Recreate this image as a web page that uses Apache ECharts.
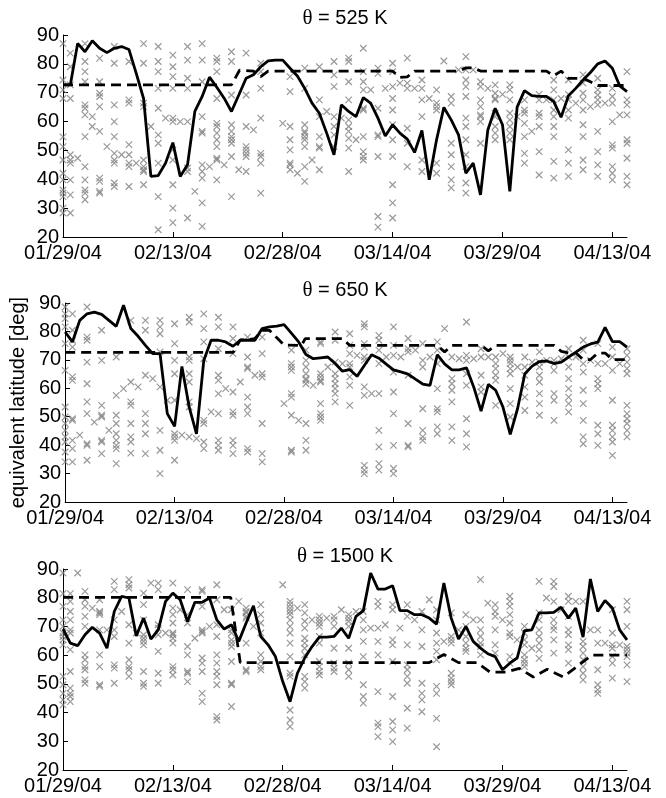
<!DOCTYPE html>
<html><head><meta charset="utf-8">
<script src="https://cdn.jsdelivr.net/npm/echarts@6/dist/echarts.min.js"></script>
<style>html,body{margin:0;padding:0;background:#fff;}#c{width:666px;height:798px;}</style>
</head><body><div id="c"></div>
<script>
// x axis ticks (day offsets from 01/29/04) and their labels
const tickDays = [0, 15, 30, 45, 60, 75];
const tickLabels = ['01/29/04', '02/13/04', '02/28/04', '03/14/04', '03/29/04', '04/13/04'];
const panelTitles = ['525 K', '650 K', '1500 K'];
const yName = 'equivalent latitude [deg]';

// solid lines: daily values, index = day 0..77
const solid525 = [72.7,72.7,87.1,84.2,88,85.4,83.9,85.4,86,85,76.7,68,41,41.3,45.6,52.7,41,45,63.5,68.7,75.4,71.9,68.1,63.5,69.2,75,76.2,79,81,81.3,81.3,78.5,75.8,71.5,66.4,62.9,56,48.5,65.8,63.5,61.7,68.3,66.4,61.2,55,58.9,56,53.9,49.3,56.9,39.8,53.7,64.9,60.6,55.4,42.1,45.6,34.6,57.1,64.6,58.9,35.8,65,70.7,69,68.7,68.7,66.9,61.5,68.9,71.5,74.4,77,80,81,78.5,72.4,70.4];
const solid650 = [79.8,76.3,83.9,86.2,86.8,86,83.9,81.8,89.2,81,78.3,75.1,72.2,72.2,51.1,46.6,67.7,53.4,44,69.8,76.9,76.9,76.3,74.8,76.9,76.9,76.9,81,81.6,81.9,82.4,79.4,76.3,71.9,70.4,70.7,71,68.7,66,66.6,64.2,68,71.8,70.6,68.5,66.5,65.8,65,63.2,61.5,61,71.8,68.6,66.5,66.5,67.2,60.4,52,61.4,59.3,53.4,43.8,52.8,65.1,67.8,69.4,69.6,68.7,69.2,71,72.7,74.5,75.6,76.2,81.4,76.4,76.4,74.5];
const solid1500 = [69.1,64.2,63.3,67.1,69.7,67.7,62.4,75.2,80.5,79.9,66.7,72.9,65.6,68.8,78.7,81.6,79.3,71.7,78.4,78.4,79.9,72.3,69.1,70.6,64.8,71.2,77.2,66.5,63.6,59.5,50.8,43.8,53.7,59,63,66.3,66.3,66.5,69.4,65.9,73.5,75.5,88.6,83,83,84.2,75.5,75.5,74.1,74.1,72.9,70.8,85.1,72.9,65.6,70,64.8,62.4,60.5,59.5,54.9,57.2,59,68.5,68.8,74.7,74.7,74.9,76.7,72.9,76.4,66.3,86.5,75.2,79,76.4,68.8,65.3];

// dashed lines: [day, value] breakpoints
const dash525 = [[0,72.7],[23,72.7],[24.1,77.8],[26,77.5],[27,75.6],[28,77.5],[45,77.5],[46,75.3],[47,75.5],[48,77.5],[54,77.5],[55,78.6],[56,78.6],[57,77.5],[66,77.5],[67,75.9],[68,77.5],[69,75],[71,75],[72,73.8],[73,72.5],[77,72.5]];
const dash650 = [[0,72.6],[23,72.6],[24,77],[25,77],[26,77.5],[27,80.4],[28,80.4],[30,75.2],[32.4,75.1],[32.9,77.5],[38,77.5],[39,75.1],[51,75.1],[52,72.8],[53,75.1],[57,75.1],[58,73.2],[59,75.1],[67,75.1],[68,73],[69,72.4],[70,72.4],[71,70.1],[72,70.1],[73,72.4],[74,72.4],[75,70.1],[77,70.1]];
const dash1500 = [[0,80.1],[22.9,80.1],[24.2,57.4],[50,57.4],[52,60.2],[54,57.4],[56.5,57.4],[58.3,54.1],[60.5,54.1],[62.3,55.4],[64.2,52.4],[66.1,55.1],[68.3,52.4],[72.2,60],[77,60]];

// scatter: [day, values...]
const scat525 = [
[0,87,74.4,71,68,54.7,51.3,46.7,42.1,39.8,36.3,35.2,34,30,28.3],[1,83.7,79,72.7,68,48.5,46.7,45.6,39.8,34.6,28.3],[2,47.3],
[3,87,80.8,77.3,73.8,65.8,64.6,62.3,54.8,44.4,39.8,36.3,35.2,32.9],[4,61.7,58.3],[5,81.9,73.8,69.8,68.7,65.2,56.6,40.4,39.3,35.8,35.2],[6,51.3],
[7,86,80.2,65.8,60,54.8,49,46.7,45.6,38.7,37.5],[8,48.5],[9,80.8,67.5,66.4,52,48.5,45.6,44.4,37.5],[10,45.6],
[11,87,80.2,66.4,65.2,46.7,44.4,43.3,42.7,38.1],[12,58.3],[13,86,80.8,77.3,71.5,64.6,55.4,52.5,45.6,34,22.5],[14,61.2],
[15,83,79,75.6,71.5,61.2,60,50.2,46.7,38.1,30,25],[16,60],[17,86,81.3,75,71.5,60,43.9,42.7,26.6],[18,35.8],
[19,87,81.3,73.8,61.7,56.6,56,45,42.7,40.4,31.8,23.7],[20,44.4],[21,82,80.8,77.3,68,59.4,58.3,56,53.7,51.3,47.3,46.7,39.8],[22,45],
[23,84.2,80.8,69.2,58.9,56.6,54.8,53.7,52.5,47.9,34],[24,43.3],[25,83.7,69.2,58.3,51.3,50.2,49,47.9,42.7],[26,57.1],
[27,80.2,77.3,71.5,61.2,49,47.9,45.6,35.2],[30,59.4],[31,75.6,70.4,58.3,53.7,50.2,45.6,45,43.3],[32,42.1],
[33,78.5,71.5,58.9,56.6,56,54.8,53.7,51.3,44.4,39.3],[34,46.7],[35,79,67.5,61.7,54.8,51.3,50.8,43.3],[36,63.5],
[37,80.8,76.2,72.1,61.7,58.3,55.4,51.3],[38,61.2],[39,82,80.8,73.8,67.5,60.6,58.3,56.6,54.2,50.8,42.7],[40,53.7],
[41,85.4,77.3,73.8,71,64.6,64,54.8,49.6,47.9,46.7],[42,71],[43,78.5,76.7,64.6,55.4,54.8,47.9,27.1,23.4],[44,71.5],
[45,80.2,77.3,72.1,68,64,58.9,53.7,47.9,38.1,31.8,26.6],[46,73.3],[47,82,73.3,71.5,57.7,52.5,44.4],[48,71.5],
[49,74.4,71.5,67.5,61.7,46.7,42.7],[50,68],[51,71,66.4,65.2,64,45.6,42.1],[52,81],[53,68.7,66.4,52.5,48.5,44.4,39.8,37],[54,77.9],
[55,82.5,77.9,74.4,72.1,68.7,61.2,58.3,53.7,48.5,44.4,38.7,35.2],[56,77.9],[57,73.8,72.1,67.5,65.2,62.3,61.7,60,52.5],[58,71.5],
[59,72.7,69.8,68,67.5,62.9,61.7,58.3,56,53.7],[60,69.4],[61,72.7,71,67.5,62.9,60.6,58.3,56,53.7],[62,61.7],
[63,67.5,64,62.9,59.4,54.8,49,45.6],[64,56.6],[65,69.4,67.5,62.9,61.7,58.3,49.6,41.5],[66,67.5],
[67,74.4,71,67.5,64,61.7,58.3,54.8,46.2,40.4],[68,68],[69,74.4,69.4,67.5,64,61.2,50.2,45.6,41],[70,66.4],
[71,76.2,73.3,69.8,67.5,64,58.9,54.8,46.7,43.3],[72,65.2],[73,75,71,69.2,67.5,65.8,56.6,49.6,45,41],[74,66.4],
[75,71.5,68.7,66.4,60,51.9,50.8,44.4,42.1,39.8],[76,62.3],[77,77.3,67.5,65.8,62.3,53.7,52.5,47.3,41,38.1]];
const scat650 = [
[0,88.6,86.2,84.5,81.6,75.7,66.3,53.4,49.9,47.6,45.2,42.9,41.1,37.6,34.1],[1,86.2,80.4,76.9,74.5,64,62.8,49.3,48.7,41.7,38.8,34.1],[2,43.5],
[3,88.6,78,76.9,69.2,61.6,55.2,51.1,40.5,39.9,34.7],[4,48.1],[5,80.4,69.8,54,50.5,49.9,41.7,41.1,37],[6,45.2],
[7,71,57.5,50.5,47.6,44,41.7,39.9,38.8,33.5],[8,59.9],[9,83.9,62.2,55.2,54,47.6,42.9,41.1,37.2],[10,60.5],
[11,83.9,80.4,64.6,51.1,47.6,44,37],[12,63.4],[13,83.9,81.6,79.2,72.8,60.5,45.2,38.2,30],[14,55.8],
[15,82.7,75.7,69.8,65.1,55.8,44,42.9,41.7,34.7],[16,43.5],[17,85,83.3,71,69.8,65.1,62.2,55.2,53.4,42.9],[18,42.3],
[19,86.2,81,76.3,70.4,48.7,47.6,41.1,38.8],[20,51.7],[21,85,81.6,73.9,64.6,62.8,58.1,51.1,41.7,39.9,38.2],[22,59.9],
[23,81.6,77.5,72.2,58.7,51.7,50.5,41.7,39.9,37],[24,62.2],[25,78,71,67.5,66.9,56.9,53.4,51.1,38.8,37.6],[26,64.6],
[27,78,72.2,65.1,63.9,47.6,37,34.1],[30,54.6],[31,73.4,68.7,67.5,66.3,58.1,56.9,50.5,38.2,37.6],[32,48.7],
[33,73.4,69.8,67.5,65.1,63.4,62.8,61.6,47.6,41.7,38.2],[34,61],[35,76.3,75.7,65.1,63.9,62.8,62.2,54.6,51.1,49.9,48.7],[36,67.5],
[37,79.8,76.9,69.2,65.1,63.4,61.6,59.9,58.1,55.2],[38,68.7],[39,79.2,75.1,72.2,68.7,67.5,64,61,54],[40,71.6],
[41,82.7,81.6,75.7,74.5,71,69.8,60.5,57.5,32.9,31.2,30],[42,58.1],[43,78.6,76.9,73.4,68.7,58.1,45.2,39.4,33.5,31.2],[44,71],
[45,81.6,75.1,71.6,65.7,58.7,51.1,39.9,31.8,30],[46,71],[47,77.5,73.9,72.8,64.6,47.6,39.9,39.4],[48,73.4],
[49,75.7,69.8,67.5,52.8,45.2,42.9,41.7],[50,71],[51,76.3,73.4,68.7,59.9,52.8,51.7,46.4,44],[52,81],
[53,71,63.4,61.6,59.3,55.2,46.4,41.7],[54,70.4],[55,83.3,71.6,69.8,65.1,61,49.3,44,39.4],[56,70.4],
[57,73.9,71,64.6,60.5,58.7],[58,71],[59,71,68.7,66.9,64.6,62.8,54],[60,72.2],[61,71,69.8,68.7,66.9,65.1,59.9,54.6,49.9],[62,67.5],
[63,71,67.5,64.6,60.5,56.9,52.2],[64,69.2],[65,72.8,69.2,67.5,64.6,62.2,58.1,54.6,50.5],[66,69.8],
[67,69.8,68.7,66.3,58.1,55.8,48.7],[68,70.4],[69,73.9,71,67.5,63.4,59.9,56.9,54.6,51.7],[70,71],
[71,76.9,73.4,68.7,65.7,59.3,54.6,48.7,42.9,40.5],[72,69.8],[73,75.7,68.7,63.4,61.6,59.9,47,44,39.9],[74,68.7],
[75,74.5,71,66.3,55.8,47,45.2,42.9,41.1,36.4],[76,68.7],[77,73.9,71.6,69.2,66.9,65.1,54,51.1,49.3,47.6,45.2,42.9]];
const scat1500 = [
[0,88.6,81.4,77,72.3,70,67.7,66.5,65.3,63.6,52.6,49.7,46.7,44.4,42.7],[1,81.4,78.7,75.2,72.3,68.8,67.7,61.9,54.3,48.5,46.7,45.6,43.8],[2,88.6],
[3,82.2,79.3,77,73.5,70,60.1,58.4,56,54.9,51.4,50.2],[4,76.4],[5,79.3,75.2,74.7,74.1,68.8,60.1,56,49.7,49.1],[6,68.8],
[7,85.7,82.8,72.3,68.8,66.5,56.6,55.5,50.2],[8,75.2],[9,86.3,84.5,83.4,70.6,64.2,58.4,56,54.9,52.6],[10,67.7],
[11,81.6,77.6,72.3,67.1,65.9,64.8,63.6,54.3,50.2,49.1],[12,85.1],[13,85.1,82.8,70.6,69.4,67.1,61.3,53.7,50.2],[14,67.7],
[15,85.1,76.4,74.1,71.2,67.7,67.1,65.9,64.2,56,54.9,53.1],[16,75.8],[17,82.8,74.1,71.2,63,60.1,54.3,53.7,50.8],[18,65.9],
[19,82.8,82.2,77,68.8,68.2,67.7,59,57.2,54.3,46.7,43.8],[20,70],[21,84.5,79.3,70.6,66.5,60.1,57.2,54.3,52.6,49.7,38.6,37.4],[22,75.8],
[23,75.8,68.8,67.7,65.3,64.2,63,57.8,50.2,49.7,42.1],[24,78.7],[25,76.4,75.2,74.7,73.5,72.9,64.2,54.9,54.3],[26,70],
[27,77.6,74.1,71.2,67.7,60.1,57.8,56,54.9],[30,84.5],[31,78.7,77.6,76.4,75.2,74.1,72.3,70,67.7,64.2,59.5,53.7,52.6,40.9,37.4,35.1],[32,76.4],
[33,77.6,74.7,71.8,69.4,65.9,64.2,62.4,60.1,52.6,50.8,48.5],[34,72.3],[35,73.5,72.3,71.2,70,66.5,64.2,57.8,56,54.3,53.1],[36,72.9],
[37,73.5,72.3,70,62.4,57.2,55.5,54.3],[38,75.8],[39,74.1,72.9,71.8,70,62.4,57.2,54.9,52.6],[40,75.2],
[41,75.2,72.3,68.8,64.8,59.5,49.7,45.6,43.3],[42,69.4],[43,78.7,77,69.4,64.8,60.1,47.3,36.3,35.1,31.6],[44,70.6],
[45,77.6,75.8,65.3,63.6,57.8,45.6,36.9,34,29.9],[46,69.4],[47,77.6,73.5,63.6,56.6,54.9,52.6,50.2,41.5,34.6],[48,72.3],
[49,75.2,68.8,63,50.2,46.7,44.4,40.3],[50,79.3],[51,75.8,72.3,67.7,64.2,61.3,58.4,49.1,46.7,38,28.1],[52,64.8],
[53,74.7,66.5,65.3,64.2,53.7,52,50.8,49.7],[54,68.8],[55,74.1,70,66.5,64.2,62.4,61.3],[56,72.3],
[57,86.3,72.3,68.8,66.5,64.2,63,60.1],[58,78.1],[59,77.6,75.2,73.5,68.8,63.6,60.7],[60,72.3],
[61,80.5,78.7,77,74.1,71.2,67.7,66.5,59.5,57.2],[62,65.3],[63,70,67.7,65.3,63.6,60.1,58.4,57.2,56],[64,62.4],
[65,85.7,74.7,72.3,68.8,66.5,64.2,61.9,58.9],[66,79.9],[67,85.7,83.9,78.7,72.3,70,68.8,65.3,60.7],[68,75.8],
[69,80.5,78.7,73.5,68.8,67.1,63.6,61.9,57.2],[70,78.7],[71,78.7,64.8,63,60.7,58.4,56,53.7,51.4],[72,68.8],
[73,68.8,64.2,54.9,49.7,47.9,46.7],[74,64.2],[75,75.8,67.7,63.6,62.4,59.5,57.2,52],[76,63.6],
[77,78.7,75.8,70,63,61.9,60.7,59.5,56.6,50.8]];

const FONT = 'Liberation Sans';
const panels = [
  {solid: solid525, dash: dash525, scat: scat525, top: 35, height: 202},
  {solid: solid650, dash: dash650, scat: scat650, top: 303, height: 199},
  {solid: solid1500, dash: dash1500, scat: scat1500, top: 569, height: 201}
];
const titleTop = [8, 280, 546];

function flatScatter(cols) {
  const out = [];
  cols.forEach(c => { for (let i = 1; i < c.length; i++) out.push([c[0], c[i]]); });
  return out;
}

const grid = [], xAxis = [], yAxis = [], series = [], title = [];
panels.forEach((p, i) => {
  grid.push({left: 63, top: p.top, width: 564, height: p.height});
  xAxis.push({
    gridIndex: i, type: 'value', min: 0, max: 77, interval: 15,
    axisLine: {show: true, onZero: false, lineStyle: {color: '#000', width: 1}},
    axisTick: {show: true, inside: true, length: 5, customValues: tickDays, lineStyle: {color: '#000'}},
    axisLabel: {customValues: tickDays, formatter: v => tickLabels[tickDays.indexOf(v)] || '',
      fontSize: 20, color: '#000', fontFamily: FONT, margin: 6},
    splitLine: {show: false}
  });
  const ya = {
    gridIndex: i, type: 'value', min: 20, max: 90, interval: 10,
    axisLine: {show: true, onZero: false, lineStyle: {color: '#000', width: 1}},
    axisTick: {show: true, inside: true, length: 5, lineStyle: {color: '#000'}},
    axisLabel: {fontSize: 20, color: '#000', fontFamily: FONT, margin: 4},
    splitLine: {show: false}
  };
  if (i === 1) {
    Object.assign(ya, {name: yName, nameLocation: 'middle', nameGap: 36,
      nameTextStyle: {fontSize: 20, color: '#000', fontFamily: FONT}});
  }
  yAxis.push(ya);
  series.push({
    type: 'scatter', xAxisIndex: i, yAxisIndex: i, data: flatScatter(p.scat),
    symbol: 'path://M0,0L10,10M0,10L10,0', symbolSize: 6.5,
    itemStyle: {color: 'rgba(0,0,0,0)', borderColor: '#808080', borderWidth: 1.2},
    silent: true, z: 1, animation: false
  });
  series.push({
    type: 'line', xAxisIndex: i, yAxisIndex: i, data: p.dash, showSymbol: false, symbol: 'none',
    lineStyle: {color: '#000', width: 2.8, type: [10, 6]}, z: 3, animation: false
  });
  series.push({
    type: 'line', xAxisIndex: i, yAxisIndex: i, data: p.solid.map((v, d) => [d, v]), showSymbol: false, symbol: 'none',
    lineStyle: {color: '#000', width: 2.8}, z: 4, animation: false
  });
  title.push({
    text: '{t|θ}{n| = ' + panelTitles[i] + '}', left: 345, top: titleTop[i], textAlign: 'center', padding: 0,
    textStyle: {fontSize: 20, fontWeight: 'normal', color: '#000', fontFamily: FONT,
      rich: {t: {fontFamily: 'Liberation Serif', fontSize: 21, color: '#000'},
             n: {fontFamily: FONT, fontSize: 20, color: '#000'}}}
  });
});

const chart = echarts.init(document.getElementById('c'), null, {renderer: 'canvas'});
chart.setOption({backgroundColor: '#fff', animation: false, title, grid, xAxis, yAxis, series});
</script></body></html>
